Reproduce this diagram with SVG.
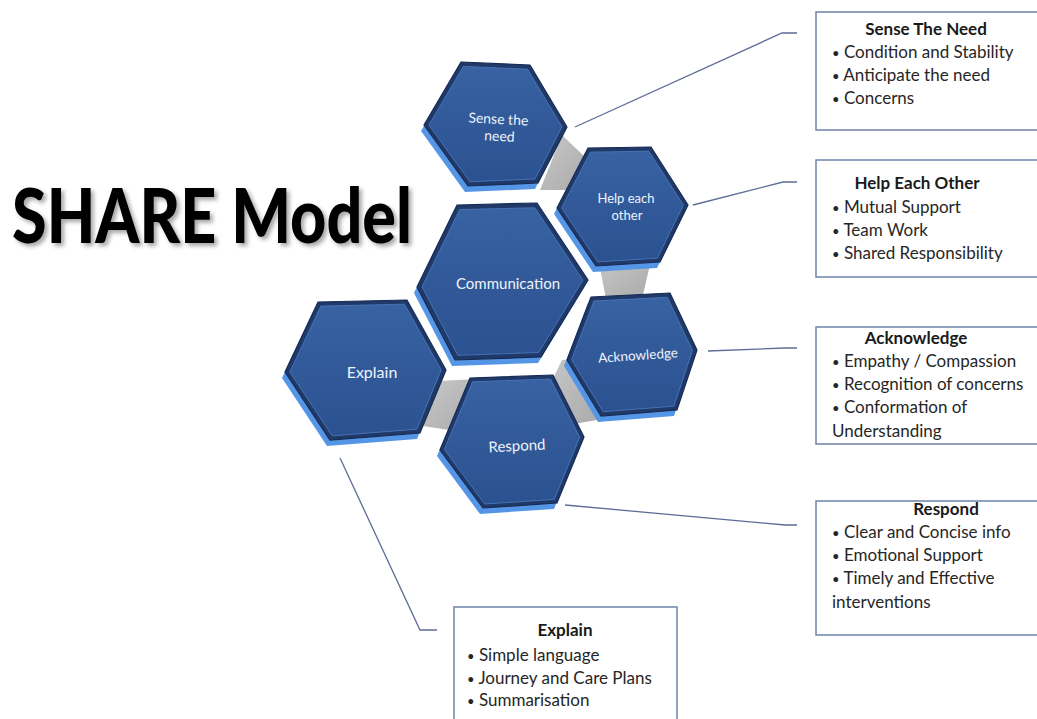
<svg xmlns="http://www.w3.org/2000/svg" width="1037" height="719" viewBox="0 0 1037 719">
<style>
.side{fill:#5595e6}
.outer{fill:#1f3969;stroke:#172c55;stroke-width:1.2}
.inner{fill:url(#hexGrad);stroke:#4a74b6;stroke-width:1}
.gap{fill:url(#grayGrad)}
.hl{font-family:Lato,"Liberation Sans",sans-serif;fill:#eef3fb;text-anchor:middle}
.lead{fill:none;stroke:#5d6c98;stroke-width:1.3}
.box{fill:#fff;stroke:#6f82a8;stroke-width:1.5}
.bt{font-family:Lato,"Liberation Sans",sans-serif;font-size:17px;fill:#262626}
.btt{font-family:Lato,"Liberation Sans",sans-serif;font-size:17px;font-weight:bold;fill:#1a1a1a;text-anchor:middle}
.bul{font-size:13px}
</style>
<defs>
<linearGradient id="hexGrad" x1="0" y1="0" x2="0" y2="1">
<stop offset="0" stop-color="#3862a2"/>
<stop offset="1" stop-color="#2b5190"/>
</linearGradient>
<linearGradient id="grayGrad" x1="0" y1="0" x2="1" y2="1">
<stop offset="0" stop-color="#c8c8c8"/>
<stop offset="1" stop-color="#aaaaaa"/>
</linearGradient>
<filter id="tshadow" x="-10%" y="-20%" width="130%" height="150%">
<feDropShadow dx="3" dy="3" stdDeviation="2" flood-color="#000" flood-opacity="0.35"/>
</filter>
</defs>
<rect width="1037" height="719" fill="#fff"/>

<text x="12" y="243" font-family="Lato,'Liberation Sans',sans-serif" font-weight="900" font-size="76" textLength="400" lengthAdjust="spacingAndGlyphs" fill="#000" filter="url(#tshadow)">SHARE Model</text>

<g id="connectors">
<polygon class="gap" points="562,135 588,160 573,190 540,190"/>
<polygon class="gap" points="598,258 652,256 642,299 606,299"/>
<polygon class="gap" points="562,360 592,358 597,420 550,428 545,395"/>
<polygon class="gap" points="438,381 478,379 462,432 423,426"/>
<polyline class="lead" points="575,127 782,33 797,33"/>
<polyline class="lead" points="693,205 783,182 797,182"/>
<polyline class="lead" points="708,351 785,348 797,348"/>
<polyline class="lead" points="565,505 785,525 797,525"/>
<polyline class="lead" points="340,458 420,630 437,630"/>
</g>

<g id="hex-sense">
<polygon class="side" transform="translate(-3,6)" points="461,62 530,65 567,127 538,183 468,186 424,125"/>
<polygon class="outer" points="461,62 530,65 567,127 538,183 468,186 424,125"/>
<polygon class="inner" transform="translate(495,125) scale(0.93) translate(-495,-125)" points="461,62 530,65 567,127 538,183 468,186 424,125"/>
<text class="hl" font-size="14" transform="rotate(3 498 126)"><tspan x="498" y="124">Sense the</tspan><tspan x="500" y="141">need</tspan></text>
</g>

<g id="hex-help">
<polygon class="side" transform="translate(-3,6)" points="588,148 651,147 688,205 660,262 596,266 557,208"/>
<polygon class="outer" points="588,148 651,147 688,205 660,262 596,266 557,208"/>
<polygon class="inner" transform="translate(622,207) scale(0.93) translate(-622,-207)" points="588,148 651,147 688,205 660,262 596,266 557,208"/>
<text class="hl" font-size="13"><tspan x="626" y="203">Help each</tspan><tspan x="627" y="220">other</tspan></text>
</g>

<g id="hex-communication">
<polygon class="side" transform="translate(-3,6)" points="457,205 537,203 588,280 541,357 455,360 417,287"/>
<polygon class="outer" points="457,205 537,203 588,280 541,357 455,360 417,287"/>
<polygon class="inner" transform="translate(502,282) scale(0.94) translate(-502,-282)" points="457,205 537,203 588,280 541,357 455,360 417,287"/>
<text class="hl" font-size="15" x="508" y="289">Communication</text>
</g>

<g id="hex-acknowledge">
<polygon class="side" transform="translate(-3,6)" points="591,297 670,293 697,350 677,410 601,416 567,360"/>
<polygon class="outer" points="591,297 670,293 697,350 677,410 601,416 567,360"/>
<polygon class="inner" transform="translate(632,355) scale(0.93) translate(-632,-355)" points="591,297 670,293 697,350 677,410 601,416 567,360"/>
<text class="hl" font-size="13.5" x="638" y="360" transform="rotate(-4 638 355)">Acknowledge</text>
</g>

<g id="hex-explain">
<polygon class="side" transform="translate(-3,6)" points="318,302 407,300 446,370 420,433 330,440 285,372"/>
<polygon class="outer" points="318,302 407,300 446,370 420,433 330,440 285,372"/>
<polygon class="inner" transform="translate(366,370) scale(0.94) translate(-366,-370)" points="318,302 407,300 446,370 420,433 330,440 285,372"/>
<text class="hl" font-size="16" x="372" y="378">Explain</text>
</g>

<g id="hex-respond">
<polygon class="side" transform="translate(-3,6)" points="470,378 553,375 584,437 557,503 483,508 440,450"/>
<polygon class="outer" points="470,378 553,375 584,437 557,503 483,508 440,450"/>
<polygon class="inner" transform="translate(512,442) scale(0.94) translate(-512,-442)" points="470,378 553,375 584,437 557,503 483,508 440,450"/>
<text class="hl" font-size="15" x="517" y="451" transform="rotate(-3 517 446)">Respond</text>
</g>

<g id="box-sense">
<rect class="box" x="816" y="12" width="230" height="118"/>
<text class="btt" x="926" y="35">Sense The Need</text>
<text class="bt" x="832" y="58"><tspan class="bul">•</tspan> Condition and Stability</text>
<text class="bt" x="832" y="81"><tspan class="bul">•</tspan> Anticipate the need</text>
<text class="bt" x="832" y="104"><tspan class="bul">•</tspan> Concerns</text>
</g>

<g id="box-help">
<rect class="box" x="816" y="160" width="230" height="117"/>
<text class="btt" x="917" y="189">Help Each Other</text>
<text class="bt" x="832" y="213"><tspan class="bul">•</tspan> Mutual Support</text>
<text class="bt" x="832" y="236"><tspan class="bul">•</tspan> Team Work</text>
<text class="bt" x="832" y="259"><tspan class="bul">•</tspan> Shared Responsibility</text>
</g>

<g id="box-acknowledge">
<rect class="box" x="816" y="327" width="230" height="117"/>
<text class="btt" x="916" y="344">Acknowledge</text>
<text class="bt" x="832" y="367"><tspan class="bul">•</tspan> Empathy / Compassion</text>
<text class="bt" x="832" y="390"><tspan class="bul">•</tspan> Recognition of concerns</text>
<text class="bt" x="832" y="413"><tspan class="bul">•</tspan> Conformation of</text>
<text class="bt" x="832" y="437">Understanding</text>
</g>

<g id="box-respond">
<rect class="box" x="816" y="501" width="230" height="134"/>
<text class="btt" x="946" y="515">Respond</text>
<text class="bt" x="832" y="538"><tspan class="bul">•</tspan> Clear and Concise info</text>
<text class="bt" x="832" y="561"><tspan class="bul">•</tspan> Emotional Support</text>
<text class="bt" x="832" y="584"><tspan class="bul">•</tspan> Timely and Effective</text>
<text class="bt" x="832" y="608">interventions</text>
</g>

<g id="box-explain">
<rect class="box" x="454" y="607" width="223" height="130"/>
<text class="btt" x="565" y="636">Explain</text>
<text class="bt" x="467" y="661"><tspan class="bul">•</tspan> Simple language</text>
<text class="bt" x="467" y="684"><tspan class="bul">•</tspan> Journey and Care Plans</text>
<text class="bt" x="467" y="706"><tspan class="bul">•</tspan> Summarisation</text>
</g>
</svg>
